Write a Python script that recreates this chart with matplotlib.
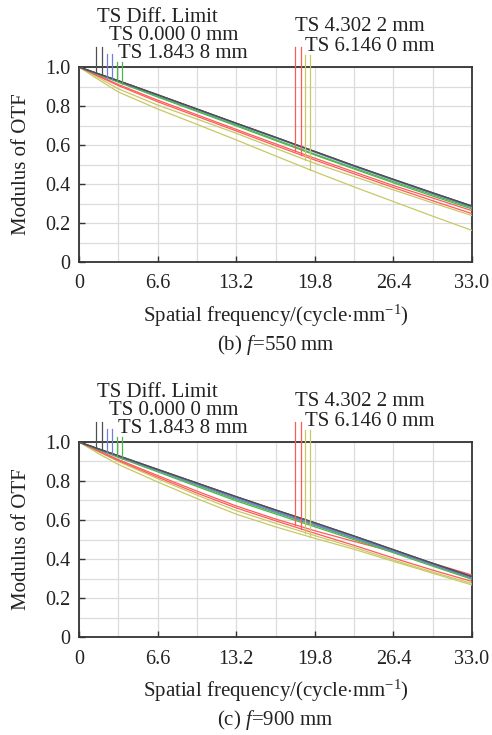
import matplotlib
matplotlib.use("Agg")
import matplotlib.pyplot as plt
import numpy as np

plt.rcParams['font.family'] = ['Liberation Serif', 'DejaVu Serif']
plt.rcParams['mathtext.fontset'] = 'custom'
plt.rcParams['mathtext.rm'] = 'Liberation Serif'
plt.rcParams['mathtext.it'] = 'Liberation Serif:italic'

# ---------------- data ----------------
freq = [0, 1.65, 3.3, 6.6, 9.9, 13.2, 16.5, 19.8, 23.1, 26.4, 29.7, 33.0]

# (b) f = 550 mm
b_diff    = [1.0, 0.965, 0.930, 0.858, 0.785, 0.712, 0.640, 0.567, 0.494, 0.424, 0.355, 0.287]
b_f0_T    = [1.0, 0.964, 0.929, 0.856, 0.783, 0.710, 0.638, 0.565, 0.492, 0.422, 0.353, 0.285]
b_f0_S    = [1.0, 0.963, 0.928, 0.855, 0.782, 0.709, 0.637, 0.563, 0.490, 0.420, 0.351, 0.283]
b_f1_T    = [1.0, 0.962, 0.925, 0.850, 0.776, 0.703, 0.628, 0.553, 0.482, 0.412, 0.345, 0.278]
b_f1_S    = [1.0, 0.960, 0.922, 0.846, 0.772, 0.698, 0.623, 0.549, 0.477, 0.406, 0.338, 0.272]
b_f2_T    = [1.0, 0.955, 0.910, 0.830, 0.755, 0.680, 0.606, 0.532, 0.462, 0.392, 0.328, 0.263]
b_f2_S    = [1.0, 0.952, 0.905, 0.822, 0.747, 0.672, 0.597, 0.523, 0.452, 0.382, 0.314, 0.248]
b_f3_T    = [1.0, 0.945, 0.888, 0.805, 0.733, 0.660, 0.583, 0.506, 0.438, 0.370, 0.303, 0.238]
b_f3_S    = [1.0, 0.935, 0.872, 0.785, 0.706, 0.626, 0.544, 0.463, 0.385, 0.310, 0.235, 0.162]

# (c) f = 900 mm
c_diff    = [1.0, 0.965, 0.930, 0.860, 0.790, 0.720, 0.652, 0.586, 0.518, 0.448, 0.378, 0.310]
c_f0_T    = [1.0, 0.964, 0.928, 0.857, 0.786, 0.715, 0.647, 0.580, 0.513, 0.444, 0.374, 0.306]
c_f0_S    = [1.0, 0.963, 0.926, 0.855, 0.783, 0.711, 0.643, 0.576, 0.509, 0.440, 0.371, 0.303]
c_f1_T    = [1.0, 0.962, 0.924, 0.852, 0.778, 0.705, 0.638, 0.572, 0.505, 0.438, 0.368, 0.300]
c_f1_S    = [1.0, 0.960, 0.921, 0.847, 0.772, 0.698, 0.631, 0.565, 0.499, 0.432, 0.363, 0.296]
c_f2_T    = [1.0, 0.955, 0.910, 0.828, 0.748, 0.672, 0.605, 0.545, 0.490, 0.437, 0.378, 0.318]
c_f2_S    = [1.0, 0.952, 0.905, 0.820, 0.738, 0.662, 0.596, 0.532, 0.470, 0.405, 0.343, 0.285]
c_f3_T    = [1.0, 0.950, 0.900, 0.812, 0.728, 0.648, 0.583, 0.520, 0.460, 0.395, 0.333, 0.275]
c_f3_S    = [1.0, 0.940, 0.885, 0.795, 0.710, 0.630, 0.565, 0.506, 0.450, 0.388, 0.327, 0.267]

series_labels = ["TS Diff. Limit", "TS 0.000 0 mm", "TS 1.843 8 mm",
                 "TS 4.302 2 mm", "TS 6.146 0 mm"]
x_ticks = [0, 6.6, 13.2, 19.8, 26.4, 33.0]
x_ticklabels = ["0", "6.6", "13.2", "19.8", "26.4", "33.0"]
y_ticks = [0, 0.2, 0.4, 0.6, 0.8, 1.0]
y_ticklabels = ["0", "0.2", "0.4", "0.6", "0.8", "1.0"]
captions = ["(b) $\\mathit{f}$=550 mm", "(c) $\\mathit{f}$=900 mm"]

# ---------------- style ----------------
colors = ['#505050', '#7080d8', '#4cb84c', '#ff5a5a', '#c8c864']
marker_x = [(1.46, 1.94), (2.36, 2.78), (3.20, 3.62), (18.15, 18.60), (19.00, 19.40)]
marker_top = [1.105, 1.066, 1.025, 1.105, 1.062]
label_pos = [(1.55, 1.255), (2.50, 1.162), (3.30, 1.070), (18.15, 1.208), (18.95, 1.106)]

W, H = 492, 735
fig = plt.figure(figsize=(W / 100, H / 100), dpi=100)

def make_panel(ax_rect, data, caption):
    ax = fig.add_axes(ax_rect)
    ax.set_xlim(0, 33)
    ax.set_ylim(0, 1)
    ax.set_xticks(np.arange(0, 33.01, 3.3), minor=True)
    ax.set_yticks(np.arange(0, 1.001, 0.1), minor=True)
    ax.grid(which='minor', color='#dcdcdc', lw=0.9)
    ax.grid(which='major', color='#dcdcdc', lw=0.9)
    ax.set_axisbelow(True)
    ax.set_xticks(x_ticks)
    ax.set_xticklabels(x_ticklabels)
    ax.set_yticks(y_ticks)
    ax.set_yticklabels(y_ticklabels)
    ax.tick_params(which='major', direction='in', length=4, width=1.0,
                   colors='#333333', labelcolor='#222222', labelsize=14.5)
    ax.tick_params(axis='x', pad=9)
    ax.tick_params(axis='y', pad=6)
    ax.tick_params(which='minor', length=0)
    for sp in ax.spines.values():
        sp.set_color('#333333')
        sp.set_linewidth(1.3)

    pairs = [(data[0], data[0]), (data[1], data[2]), (data[3], data[4]),
             (data[5], data[6]), (data[7], data[8])]
    for i in [4, 3, 2, 1, 0]:
        t, s = pairs[i]
        ax.plot(freq, s, color=colors[i], lw=0.9, zorder=3)
        ax.plot(freq, t, color=colors[i], lw=0.9, zorder=3)

    for i, (t, s) in enumerate(pairs):
        for mx, series in zip(marker_x[i], (t, s)):
            ybot = np.interp(mx, freq, series)
            ax.plot([mx, mx], [ybot, marker_top[i]], color=colors[i], lw=0.9,
                    clip_on=False, zorder=4)
        lx, ly = label_pos[i]
        ax.text(lx, ly, series_labels[i], fontsize=15, color='#222222',
                ha='left', va='center', clip_on=False)

    ax.text(-0.147, 0.5, "Modulus of OTF", transform=ax.transAxes,
            rotation=90, ha='center', va='center', fontsize=15, color='#222222')
    ax.text(0.5, -0.275, "Spatial frequency/(cycle$\\cdot$mm$^{-1}$)",
            transform=ax.transAxes, ha='center', va='center', fontsize=15,
            color='#222222')
    ax.text(0.5, -0.425, caption, transform=ax.transAxes, ha='center',
            va='center', fontsize=15, color='#222222')
    return ax

left = 79 / W
width = (472 - 79) / W
height = 195 / H
make_panel([left, (H - 262) / H, width, height],
           [b_diff, b_f0_T, b_f0_S, b_f1_T, b_f1_S, b_f2_T, b_f2_S, b_f3_T, b_f3_S],
           captions[0])
make_panel([left, (H - 637) / H, width, height],
           [c_diff, c_f0_T, c_f0_S, c_f1_T, c_f1_S, c_f2_T, c_f2_S, c_f3_T, c_f3_S],
           captions[1])

fig.savefig("out.png", dpi=100, facecolor='white')
